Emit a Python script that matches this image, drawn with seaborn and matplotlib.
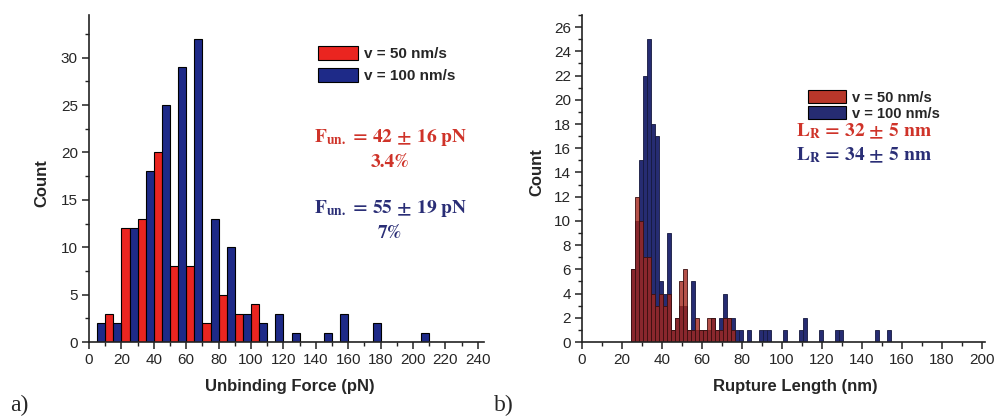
import numpy as np
import pandas as pd
import matplotlib
matplotlib.use("Agg")
import matplotlib.pyplot as plt
import seaborn as sns
from matplotlib.patches import Patch
from matplotlib.ticker import MultipleLocator

# ---- data: panel a) unbinding force histogram (bin centres, pN) ----
force_centers = [10, 20, 30, 40, 50, 60, 70, 80, 90, 100, 110, 120, 130, 140,
                 150, 160, 170, 180, 190, 200, 210]
force_50 = [3, 12, 13, 20, 8, 8, 2, 5, 3, 4, 0, 0, 0, 0, 0, 0, 0, 0, 0, 0, 0]
force_100 = [2, 2, 12, 18, 25, 29, 32, 13, 10, 3, 2, 3, 1, 0, 1, 3, 0, 2, 0, 0, 1]

# ---- data: panel b) rupture length histogram (bin centres, nm) ----
length_centers = [25.5, 27.5, 29.5, 31.5, 33.5, 35.5, 37.5, 39.5, 41.5, 43.5,
                  45.5, 47.5, 49.5, 51.5, 53.5, 55.5, 57.5, 59.5, 61.5, 63.5,
                  65.5, 67.5, 69.5, 71.5, 73.5, 75.5, 77.5, 79.5, 83.5, 89.5,
                  91.5, 93.5, 101.5, 109.5, 111.5, 119.5, 127.5, 129.5, 147.5, 153.5]
length_100 = [6, 10, 15, 22, 25, 18, 17, 5, 4, 9,
              1, 2, 3, 3, 1, 5, 1, 1, 1, 1,
              2, 1, 2, 4, 2, 2, 1, 1, 1, 1,
              1, 1, 1, 1, 2, 1, 1, 1, 1, 1]
length_50 = [6, 12, 10, 7, 7, 4, 3, 4, 3, 4,
             1, 2, 5, 6, 1, 1, 2, 1, 1, 2,
             2, 1, 1, 2, 2, 1, 0, 0, 0, 0,
             0, 0, 0, 0, 0, 0, 0, 0, 0, 0]

labels = ["v = 50 nm/s", "v = 100 nm/s"]
red_a, blue_a = "#ea2520", "#1e2a88"
red_b, blue_b = "#a3261c", "#262c72"
red_txt, blue_txt = "#cf3329", "#2a2e76"

sns.set_style("ticks")
plt.rcParams["font.family"] = ["Liberation Sans", "DejaVu Sans"]
plt.rcParams["mathtext.fontset"] = "stix"

W, H = 997, 419
fig = plt.figure(figsize=(W / 100, H / 100), dpi=100)

def fx(px):
    return px / W

def fy(py):
    return 1 - py / H

ax1 = fig.add_axes([fx(89), fy(342), 244 * 1.62 / W, (342 - 15) / H])
ax2 = fig.add_axes([fx(582), fy(342), 201.5 * 2 / W, (342 - 15) / H])

# panel a: grouped (dodged) histogram
df_a = pd.DataFrame({
    "force": force_centers * 2,
    "count": force_100 + force_50,
    "speed": [labels[1]] * len(force_centers) + [labels[0]] * len(force_centers),
})
df_a = df_a[df_a["count"] > 0]
sns.histplot(data=df_a, x="force", weights="count", hue="speed",
             hue_order=[labels[1], labels[0]], palette=[blue_a, red_a],
             multiple="dodge", binwidth=10, binrange=(5, 215), shrink=1,
             alpha=1, edgecolor="black", linewidth=0.8, legend=False, ax=ax1)

# panel b: overlaid histograms
df_b = pd.DataFrame({"length": length_centers, "n100": length_100, "n50": length_50})
sns.histplot(data=df_b[df_b["n100"] > 0], x="length", weights="n100",
             binwidth=2, binrange=(24.5, 156.5), color=blue_b, alpha=1,
             edgecolor="#15183f", linewidth=0.6, ax=ax2)
sns.histplot(data=df_b[df_b["n50"] > 0], x="length", weights="n50",
             binwidth=2, binrange=(24.5, 156.5), color=red_b, alpha=0.8,
             edgecolor="#3a1010", linewidth=0.6, ax=ax2)

ax1.set_xlim(0, 244)
ax1.set_ylim(0, 34.5)
ax1.xaxis.set_major_locator(MultipleLocator(20))
ax1.xaxis.set_minor_locator(MultipleLocator(10))
ax1.yaxis.set_major_locator(MultipleLocator(5))
ax1.yaxis.set_minor_locator(MultipleLocator(2.5))

ax2.set_xlim(0, 201.5)
ax2.set_ylim(0, 27)
ax2.xaxis.set_major_locator(MultipleLocator(20))
ax2.xaxis.set_minor_locator(MultipleLocator(10))
ax2.yaxis.set_major_locator(MultipleLocator(2))
ax2.yaxis.set_minor_locator(MultipleLocator(1))

for ax in (ax1, ax2):
    sns.despine(ax=ax)
    ax.set_xlabel("")
    ax.set_ylabel("")
    for s in ("left", "bottom"):
        ax.spines[s].set_linewidth(1.2)
        ax.spines[s].set_color("#222222")
    ax.tick_params(which="major", direction="out", length=5, width=1.1,
                   labelsize=11, pad=3, color="#222222")
    ax.tick_params(which="minor", direction="out", length=3, width=1.0,
                   color="#222222")

# axis titles
title = {"size": 12, "weight": "bold"}
fig.text(fx(290), fy(386), "Unbinding Force (pN)", ha="center", va="center", fontdict=title)
fig.text(fx(795), fy(386), "Rupture Length (nm)", ha="center", va="center", fontdict=title)
fig.text(fx(42), fy(183), "Count", rotation=90, ha="center", va="center", fontdict=title)
fig.text(fx(537), fy(172), "Count", rotation=90, ha="center", va="center", fontdict=title)

# legends
def make_legend(ax, x, y, red, blue, spacing, size):
    handles = [Patch(facecolor=red, edgecolor="black", linewidth=0.8, label=labels[0]),
               Patch(facecolor=blue, edgecolor="black", linewidth=0.8, label=labels[1])]
    return ax.legend(handles=handles, loc="upper left", bbox_to_anchor=(fx(x), fy(y)),
                     bbox_transform=fig.transFigure, frameon=False, borderpad=0,
                     borderaxespad=0, handlelength=2.6, handleheight=1.0,
                     handletextpad=0.4, labelspacing=spacing,
                     prop={"size": size, "weight": "bold"})

make_legend(ax1, 318, 46, red_a, blue_a, 0.45, 11)
make_legend(ax2, 808, 90, "#b8372a", blue_b, 0.1, 10.5)

# annotations (Times-like bold via STIX)
ann = {"size": 14, "family": "STIXGeneral", "weight": "bold"}
fig.text(fx(391), fy(137), r"F$_{\mathbf{un.}}$ = 42 ± 16 pN", color=red_txt,
         ha="center", va="center", fontdict=ann)
fig.text(fx(390), fy(162), "3.4%", color=red_txt, ha="center", va="center", fontdict=ann)
fig.text(fx(391), fy(208), r"F$_{\mathbf{un.}}$ = 55 ± 19 pN", color=blue_txt,
         ha="center", va="center", fontdict=ann)
fig.text(fx(390), fy(233), "7%", color=blue_txt, ha="center", va="center", fontdict=ann)

fig.text(fx(864), fy(131), r"L$_{\mathbf{R}}$ = 32 ± 5 nm", color=red_txt,
         ha="center", va="center", fontdict=ann)
fig.text(fx(864), fy(155), r"L$_{\mathbf{R}}$ = 34 ± 5 nm", color=blue_txt,
         ha="center", va="center", fontdict=ann)

# panel letters
letter = {"family": ["Liberation Serif", "DejaVu Serif"], "size": 17}
fig.text(fx(10), fy(405), "a)", ha="left", va="center", fontdict=letter)
fig.text(fx(494), fy(405), "b)", ha="left", va="center", fontdict=letter)

fig.savefig("out.png", dpi=100)
